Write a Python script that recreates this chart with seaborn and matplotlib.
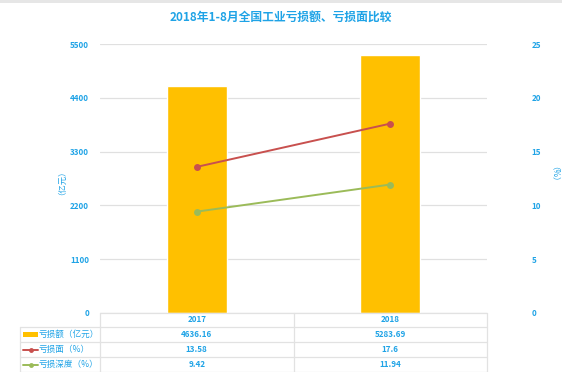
import matplotlib
matplotlib.use("Agg")
import matplotlib.pyplot as plt
import seaborn as sns
import pandas as pd
from matplotlib.lines import Line2D
from matplotlib.patches import Rectangle

# Data
years = ["2017", "2018"]
loss_amount = [4636.16, 5283.69]      # 亏损额（亿元）
loss_ratio = [13.58, 17.6]            # 亏损面（%）
loss_depth = [9.42, 11.94]            # 亏损深度（%）
series_names = ["亏损额（亿元）", "亏损面（%）", "亏损深度（%）"]
title = "2018年1-8月全国工业亏损额、亏损面比较"

sns.set_theme(style="white")
plt.rcParams["font.family"] = ["Noto Sans CJK SC", "DejaVu Sans"]

BLUE = "#1FA3E6"
BAR = "#FFC000"
RED = "#C8504E"
GREEN = "#9BBB59"
GRID = "#E0E0E0"

W, H = 562, 372
fig = plt.figure(figsize=(W / 100, H / 100), dpi=100)
fig.patch.set_facecolor("white")

# plot area in pixels
x0, x1, ytop, ybot = 100, 487, 44, 313
ax = fig.add_axes([x0 / W, 1 - ybot / H, (x1 - x0) / W, (ybot - ytop) / H])

df = pd.DataFrame({"year": years, "amount": loss_amount,
                   "ratio": loss_ratio, "depth": loss_depth})

sns.barplot(data=df, x="year", y="amount", color=BAR, width=0.31,
            saturation=1, ax=ax, zorder=2)
ax.set_ylim(0, 5500)
ax.set_yticks(range(0, 5501, 1100))
ax.set_xlim(-0.5, 1.5)
ax.set_xticks([])
ax.set_xlabel("")
ax.set_ylabel("")
ax.grid(axis="y", color=GRID, linewidth=0.9, zorder=0)
ax.set_axisbelow(True)
for s in ax.spines.values():
    s.set_visible(False)
ax.tick_params(axis="y", length=0, pad=8, labelsize=5.8, labelcolor=BLUE)
for t in ax.get_yticklabels():
    t.set_fontweight("bold")

ax2 = ax.twinx()
sns.lineplot(x=[0, 1], y=df["ratio"], color=RED, marker="o", markersize=5,
             markeredgewidth=0, linewidth=1.4, ax=ax2, zorder=3)
sns.lineplot(x=[0, 1], y=df["depth"], color=GREEN, marker="o", markersize=5,
             markeredgewidth=0, linewidth=1.4, ax=ax2, zorder=3)
ax2.set_ylim(0, 25)
ax2.set_yticks(range(0, 26, 5))
ax2.set_ylabel("")
for s in ax2.spines.values():
    s.set_visible(False)
ax2.tick_params(axis="y", length=0, pad=32, labelsize=5.8, labelcolor=BLUE)
for t in ax2.get_yticklabels():
    t.set_fontweight("bold")
ax2.set_xlim(-0.5, 1.5)

# overlay in pixel coordinates for title, axis titles and data table
ov = fig.add_axes([0, 0, 1, 1], zorder=5)
ov.set_xlim(0, W)
ov.set_ylim(H, 0)
ov.axis("off")
ov.patch.set_alpha(0)

ov.add_patch(Rectangle((0, 0), W, 3, color="#E6E6E6", lw=0))
ov.text(281, 17, title, ha="center", va="center", fontsize=8.5,
        color=BLUE, fontweight="bold")
ov.text(58, 178, "（亿元）", ha="center", va="center", rotation=90,
        fontsize=6, color=BLUE)
ov.text(551, 178, "（%）", ha="center", va="center", rotation=270,
        fontsize=6, color=BLUE)

# data table
lc = "#E2E2E2"
rows_y = [313, 327, 342, 357, 372]
lx = 20
xm = (x0 + x1) / 2
ov.plot([x0, x1], [313, 313], color=lc, lw=0.9)
for y in rows_y[1:]:
    ov.plot([lx, x1], [y, y], color=lc, lw=0.9)
for xv in [x0, xm, x1]:
    ov.plot([xv, xv], [313, 372], color=lc, lw=0.9)
ov.plot([lx, lx], [327, 372], color=lc, lw=0.9)

centers = [(x0 + xm) / 2, (xm + x1) / 2]
for cx, yr in zip(centers, years):
    ov.text(cx, 320, yr, ha="center", va="center", fontsize=5.8,
            color=BLUE, fontweight="bold")

fmt = lambda v: f"{v:g}"
table_vals = [loss_amount, loss_ratio, loss_depth]
for r, vals in enumerate(table_vals):
    cy = (rows_y[r + 1] + rows_y[r + 2]) / 2
    for cx, v in zip(centers, vals):
        ov.text(cx, cy, fmt(v), ha="center", va="center", fontsize=5.8,
                color=BLUE, fontweight="bold")

# legend keys in the first column
cy0 = (rows_y[1] + rows_y[2]) / 2
ov.add_patch(Rectangle((23, cy0 - 2.5), 15, 5, color=BAR, lw=0))
for r, col in [(1, RED), (2, GREEN)]:
    cy = (rows_y[r + 1] + rows_y[r + 2]) / 2
    ov.add_line(Line2D([23, 38], [cy, cy], color=col, lw=1.4))
    ov.add_line(Line2D([30.5], [cy], color=col, marker="o", markersize=3.5,
                       markeredgewidth=0))
for r, name in enumerate(series_names):
    cy = (rows_y[r + 1] + rows_y[r + 2]) / 2
    ov.text(39, cy, name, ha="left", va="center", fontsize=6.2, color=BLUE)

fig.savefig("out.png", dpi=100)
